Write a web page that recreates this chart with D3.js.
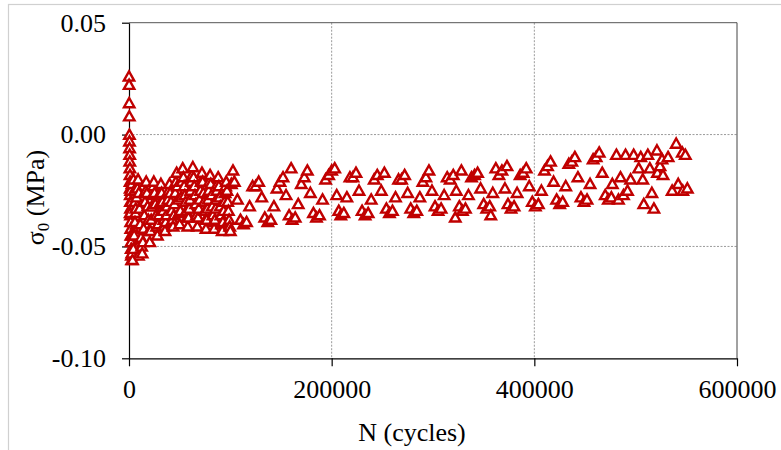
<!DOCTYPE html>
<html><head><meta charset="utf-8">
<script src="https://cdn.jsdelivr.net/npm/d3@7"></script>
<style>body{margin:0;background:#fff}svg{display:block}</style>
</head><body><svg id="c" width="781" height="450"></svg>
<script>
// ---- data ----
const cyclesEarly = [0,100,200,300,400,500,600,700,800,900,1000,1100,1200,1300,1400,1500,1600,1700,1800,1900,2000,2200,2400,2600,2800,
  1200,1700,2300,2900,3200, 4400,5100,5800,6500,7200,7900,8600,9300];
const sigmaEarly = [0.026,0.0223,0.0141,0.0082,0.0000,-0.003,-0.006,-0.009,-0.012,-0.015,-0.018,-0.021,-0.024,-0.027,-0.030,-0.033,-0.036,-0.039,-0.042,-0.045,-0.048,-0.051,-0.054,-0.056,-0.053,
  -0.035,-0.025,-0.030,-0.022,-0.045, -0.020,-0.025,-0.030,-0.035,-0.040,-0.045,-0.050,-0.054];

const cyclesDense = [3500,4300,5100,5900,6700,7500,8300,9000,
  9700,10400,11100,11800,12500,13000,
  13700,14400,15100,15800,16400,17000,
  17700,18400,19100,19800,20500,
  21200,21900,22600,23300,24000,24500,
  25200,25900,26600,27300,28000,
  28700,29400,30100,30800,31500,
  32200,32900,33600,34300,35000,35500,
  36200,36900,37600,38300,39100,40000,
  40700,41400,42100,42800,43500,
  44200,44900,45600,46300,47000,
  47700,48400,49200,50000,
  50700,51400,52200,53000,
  53700,54400,55100,55800,56500,57200,58000,
  58700,59400,60100,60800,61500,62200,63000,
  63700,64400,65100,65800,66600,67500,
  68200,68900,69600,70400,71200,72000,
  72700,73400,74100,74800,75400,76000,
  76700,77400,78000,78700,79300,80000,
  80700,81400,82100,82800,83400,84000,
  84700,85400,86000,86700,87300,88000,
  88700,89400,90100,90700,91300,92000,
  92700,93400,94100,94800,95400,96000,
  96700,97400,98100,98800,99400,100000];
const sigmaDense = [-0.056,-0.051,-0.045,-0.039,-0.033,-0.028,-0.024,-0.020,
  -0.026,-0.033,-0.040,-0.046,-0.050,-0.053,
  -0.048,-0.042,-0.036,-0.030,-0.025,-0.021,
  -0.026,-0.032,-0.038,-0.043,-0.048,
  -0.043,-0.038,-0.032,-0.027,-0.023,-0.021,
  -0.026,-0.031,-0.036,-0.041,-0.045,
  -0.040,-0.036,-0.031,-0.026,-0.022,
  -0.026,-0.030,-0.034,-0.038,-0.041,-0.043,
  -0.039,-0.036,-0.032,-0.029,-0.025,-0.022,
  -0.026,-0.030,-0.034,-0.038,-0.041,
  -0.036,-0.031,-0.026,-0.021,-0.017,
  -0.023,-0.029,-0.035,-0.040,
  -0.034,-0.028,-0.021,-0.015,
  -0.019,-0.023,-0.027,-0.030,-0.034,-0.037,-0.041,
  -0.037,-0.033,-0.029,-0.025,-0.021,-0.018,-0.0145,
  -0.019,-0.023,-0.027,-0.031,-0.036,-0.041,
  -0.037,-0.033,-0.029,-0.025,-0.021,-0.017,
  -0.021,-0.026,-0.030,-0.034,-0.038,-0.042,
  -0.038,-0.033,-0.029,-0.025,-0.021,-0.018,
  -0.022,-0.027,-0.032,-0.036,-0.039,-0.042,
  -0.038,-0.033,-0.029,-0.025,-0.022,-0.019,
  -0.023,-0.028,-0.032,-0.036,-0.040,-0.043,
  -0.039,-0.034,-0.030,-0.026,-0.023,-0.021,
  -0.025,-0.030,-0.034,-0.038,-0.041,-0.043];

const cyclesLate = [101000,102600,104000,107000,110000,113000,116000,119000,122000,
  125000,128000,131000,134000,137000,140000,143000,146000,
  149000,152000,155000,158000,160000,161000,164000,167000,170000,
  173000,176000,179000,182000,185000,188000,191000,194000,
  197000,200000,203000,205000,207000,209000,212000,215000,218000,
  221000,224000,227000,230000,233000,236000,239000,242000,
  245000,249000,252000,254000,257000,260000,263000,266000,
  269000,272000,275000,278000,281000,284000,287000,290000,
  293000,296000,299000,302000,305000,308000,311000,314000,
  317000,320000,322000,323000,326000,328000,329000,332000,335000,338000,
  341000,344000,347000,350000,353000,356000,357000,359000,362000,
  365000,368000,371000,373000,374000,377000,380000,383000,386000,
  389000,392000,395000,398000,401000,404000,407000,410000,
  413000,416000,419000,422000,425000,428000,431000,434000,
  437000,440000,443000,446000,449000,452000,455000,458000,
  461000,464000,467000,470000,473000,476000,
  477000,481000,483000,485000,488000,490000,492000,495000,498000,503000,
  505000,507000,508000,512000,514000,516000,518000,521000,521500,524000,
  526000,527000,532000,536000,540000,542000,546000,546500,549000,551000];
const sigmaLate = [-0.022,-0.016,-0.021,-0.029,-0.038,-0.040,-0.039,-0.032,-0.023,
  -0.023,-0.021,-0.028,-0.037,-0.039,-0.038,-0.032,-0.024,
  -0.021,-0.019,-0.027,-0.036,-0.015,-0.038,-0.037,-0.031,-0.022,
  -0.019,-0.016,-0.026,-0.035,-0.037,-0.036,-0.029,-0.020,
  -0.018,-0.016,-0.015,-0.027,-0.034,-0.036,-0.035,-0.028,-0.019,
  -0.019,-0.017,-0.025,-0.034,-0.036,-0.035,-0.029,-0.020,
  -0.018,-0.025,-0.017,-0.033,-0.035,-0.034,-0.028,-0.020,
  -0.020,-0.018,-0.026,-0.033,-0.035,-0.034,-0.028,-0.021,
  -0.019,-0.016,-0.025,-0.032,-0.034,-0.033,-0.027,-0.019,
  -0.020,-0.018,-0.037,-0.025,-0.032,-0.016,-0.034,-0.033,-0.027,-0.019,
  -0.018,-0.017,-0.024,-0.031,-0.033,-0.032,-0.036,-0.026,-0.015,
  -0.018,-0.016,-0.024,-0.014,-0.031,-0.033,-0.032,-0.026,-0.018,
  -0.017,-0.015,-0.023,-0.030,-0.032,-0.031,-0.025,-0.016,
  -0.014,-0.012,-0.021,-0.029,-0.031,-0.030,-0.023,-0.013,
  -0.012,-0.010,-0.019,-0.028,-0.030,-0.029,-0.022,-0.011,
  -0.010,-0.008,-0.017,-0.027,-0.029,-0.028,
  -0.022,-0.009,-0.029,-0.019,-0.027,-0.009,-0.025,-0.020,-0.009,-0.015,
  -0.010,-0.020,-0.031,-0.009,-0.015,-0.026,-0.033,-0.007,-0.017,-0.014,
  -0.011,-0.018,-0.010,-0.025,-0.004,-0.022,-0.008,-0.025,-0.009,-0.024];

const xTicks = [0, 200000, 400000, 600000];
const yTicks = [-0.10, -0.05, 0.00, 0.05];
const xGrid = [200000, 400000];
const yGrid = [-0.05, 0.00];
const xTitle = "N (cycles)";
const yTitleMain = "σ", yTitleSub = "0", yTitleRest = " (MPa)";

// ---- drawing ----
const cycles = cyclesEarly.concat(cyclesDense, cyclesLate);
const sigma = sigmaEarly.concat(sigmaDense, sigmaLate);
const n = Math.min(cycles.length, sigma.length);
const pts = d3.range(n).map(i => ({N: cycles[i], s: sigma[i]}));

const svg = d3.select("#c");
const font = "'Liberation Serif','Times New Roman',serif";
const x = d3.scaleLinear().domain([0, 600000]).range([129, 737]);
const y = d3.scaleLinear().domain([-0.10, 0.05]).range([358.3, 22.7]);

svg.append("rect").attr("width", 781).attr("height", 450).attr("fill", "#fff");
svg.append("rect").attr("x", 8.5).attr("y", 4.5).attr("width", 900).attr("height", 600)
  .attr("fill", "none").attr("stroke", "#d0d0d0").attr("stroke-width", 1.2);

// gridlines
svg.append("g").selectAll("line").data(yGrid).join("line")
  .attr("x1", x(0)).attr("x2", x(600000)).attr("y1", d => y(d)).attr("y2", d => y(d))
  .attr("stroke", "#9a9a9a").attr("stroke-dasharray", "2,1.5");
svg.append("g").selectAll("line").data(xGrid).join("line")
  .attr("y1", y(0.05)).attr("y2", y(-0.10)).attr("x1", d => x(d)).attr("x2", d => x(d))
  .attr("stroke", "#9a9a9a").attr("stroke-dasharray", "2,1.5");
// plot frame top & right
svg.append("line").attr("x1", x(0)).attr("x2", x(600000)).attr("y1", y(0.05)).attr("y2", y(0.05))
  .attr("stroke", "#555");
svg.append("line").attr("x1", x(600000)).attr("x2", x(600000)).attr("y1", y(0.05)).attr("y2", y(-0.10))
  .attr("stroke", "#444");

// axes
const yAxis = d3.axisLeft(y).tickValues(yTicks).tickSize(7).tickSizeOuter(0).tickPadding(16)
  .tickFormat(d => d.toFixed(2));
const gy = svg.append("g").attr("transform", `translate(${x(0)},0)`).call(yAxis);
const xAxis = d3.axisBottom(x).tickValues(xTicks).tickSize(8).tickSizeOuter(0).tickPadding(13)
  .tickFormat(d => String(d));
const gx = svg.append("g").attr("transform", `translate(0,${y(-0.10)})`).call(xAxis);
[gx, gy].forEach(g => {
  g.attr("font-family", null);
  g.select(".domain").attr("stroke", "#000").attr("stroke-width", 1.2);
  g.selectAll(".tick line").attr("stroke", "#000").attr("stroke-width", 1.2);
  g.selectAll("text").style("font-family", font).attr("font-size", 26).attr("fill", "#000");
});

// titles
svg.append("text").attr("x", 412).attr("y", 441).attr("text-anchor", "middle")
  .style("font-family", font).attr("font-size", 26).text(xTitle);
const yt = svg.append("text").attr("transform", "translate(44,197.5) rotate(-90)")
  .attr("text-anchor", "middle").style("font-family", font).attr("font-size", 26);
yt.append("tspan").text(yTitleMain);
yt.append("tspan").attr("font-size", 17).attr("dy", "0.3em").text(yTitleSub);
yt.append("tspan").attr("dy", "-0.2em").text(yTitleRest);

// markers
svg.append("g").selectAll("path").data(pts).join("path")
  .attr("transform", d => `translate(${x(d.N)},${y(d.s)})`)
  .attr("d", "M0,-5L5.2,4.2L-5.2,4.2Z")
  .attr("fill", "#fff").attr("stroke", "#c00000").attr("stroke-width", 2.4)
  .attr("stroke-linejoin", "miter");
</script></body></html>
